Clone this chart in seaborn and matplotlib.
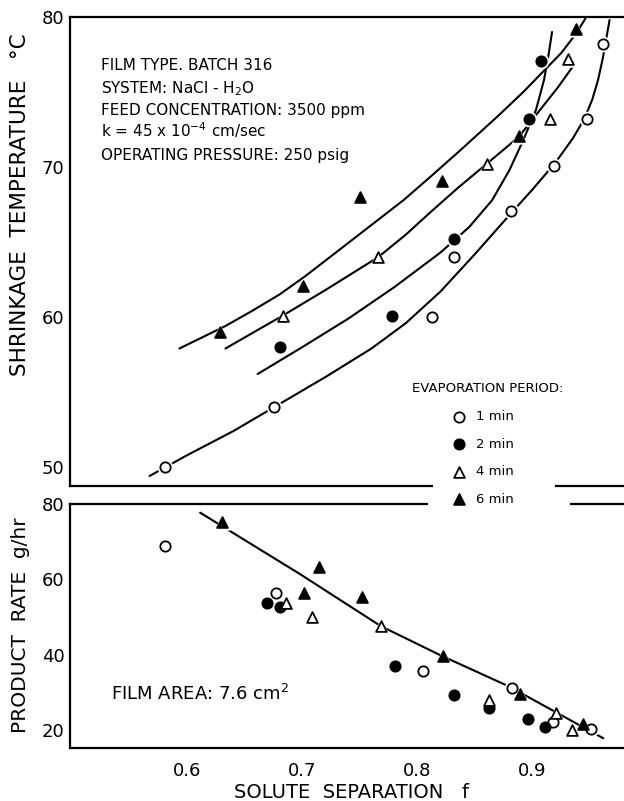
import matplotlib
matplotlib.use("Agg")
import matplotlib.pyplot as plt
import seaborn as sns
from matplotlib.patches import Rectangle

sns.set_style("white")
plt.rcParams['font.family'] = ['DejaVu Sans']
plt.rcParams['mathtext.fontset'] = 'dejavusans'
for k in ("text.color", "axes.labelcolor", "xtick.color", "ytick.color", "axes.edgecolor"):
    plt.rcParams[k] = "black"

# ---------------- data ----------------
periods = ["1 min", "2 min", "4 min", "6 min"]

# upper panel: shrinkage temperature (deg C) vs solute separation f
temp_x_1 = [0.580, 0.675, 0.813, 0.832, 0.881, 0.919, 0.947, 0.961]
temp_y_1 = [50.0, 54.0, 60.0, 64.0, 67.1, 70.1, 73.2, 78.2]
temp_x_2 = [0.680, 0.778, 0.832, 0.897, 0.907]
temp_y_2 = [58.0, 60.1, 65.2, 73.2, 77.1]
temp_x_4 = [0.683, 0.766, 0.860, 0.915, 0.931]
temp_y_4 = [60.1, 64.0, 70.2, 73.2, 77.2]
temp_x_6 = [0.628, 0.700, 0.750, 0.821, 0.888, 0.938]
temp_y_6 = [59.0, 62.1, 68.0, 69.1, 72.1, 79.2]

# hand-drawn fit curves of the upper panel
curve_x_1 = [0.567, 0.600, 0.640, 0.680, 0.720, 0.760, 0.790, 0.820, 0.850, 0.880, 0.900,
             0.920, 0.935, 0.945, 0.952, 0.957, 0.961, 0.964, 0.967]
curve_y_1 = [49.4, 50.8, 52.4, 54.2, 56.0, 57.9, 59.6, 61.7, 64.2, 66.8, 68.5,
             70.3, 71.9, 73.2, 74.5, 75.8, 77.2, 78.5, 79.8]
curve_x_2 = [0.661, 0.700, 0.740, 0.780, 0.820, 0.845, 0.865, 0.880, 0.892, 0.903, 0.910, 0.914, 0.917]
curve_y_2 = [56.2, 58.0, 59.9, 62.0, 64.3, 66.0, 67.8, 69.8, 71.8, 73.8, 75.8, 77.5, 79.0]
curve_x_4 = [0.633, 0.658, 0.683, 0.720, 0.743, 0.766, 0.790, 0.810, 0.835, 0.860, 0.888,
             0.9065, 0.922, 0.936]
curve_y_4 = [57.9, 59.0, 60.1, 61.8, 62.9, 64.0, 65.5, 66.9, 68.6, 70.2, 72.0,
             73.8, 75.3, 76.8]
curve_x_6 = [0.593, 0.613, 0.633, 0.656, 0.680, 0.702, 0.724, 0.756, 0.788, 0.812, 0.837,
             0.870, 0.892, 0.911, 0.925, 0.938, 0.946]
curve_y_6 = [57.9, 58.65, 59.4, 60.4, 61.5, 62.7, 64.0, 65.9, 67.8, 69.4, 71.1,
             73.4, 75.0, 76.5, 77.6, 78.9, 79.9]

# lower panel: product rate (g/hr) vs solute separation f
rate_x_1 = [0.580, 0.677, 0.805, 0.882, 0.918, 0.951]
rate_y_1 = [68.9, 56.5, 35.7, 31.2, 22.1, 20.4]
rate_x_2 = [0.669, 0.680, 0.780, 0.832, 0.862, 0.896, 0.911]
rate_y_2 = [53.8, 52.7, 37.1, 29.3, 25.8, 22.9, 20.9]
rate_x_4 = [0.686, 0.7085, 0.768, 0.862, 0.9205, 0.934]
rate_y_4 = [53.8, 50.1, 47.6, 28.0, 24.4, 20.0]
rate_x_6 = [0.630, 0.701, 0.714, 0.7515, 0.822, 0.889, 0.9437]
rate_y_6 = [75.1, 56.5, 63.4, 55.4, 39.7, 29.6, 21.6]

rate_curve_x = [0.611, 0.6978, 0.768, 0.8196, 0.880, 0.9616]
rate_curve_y = [77.7, 61.4, 47.6, 39.9, 31.5, 17.8]

x_ticks = [0.6, 0.7, 0.8, 0.9]
x_ticklabels = ["0.6", "0.7", "0.8", "0.9"]
temp_ticks = [50, 60, 70, 80]
rate_ticks = [20, 40, 60, 80]

# ---------------- styles ----------------
marker_style = {
    "1 min": dict(marker="o", fc="white", s=55),
    "2 min": dict(marker="o", fc="black", s=55),
    "4 min": dict(marker="^", fc="white", s=60),
    "6 min": dict(marker="^", fc="black", s=60),
}

W, H = 624, 801
fig = plt.figure(figsize=(W / 100, H / 100), dpi=100)
fx = lambda px: px / W
fy = lambda py: 1 - py / H

LEFT = 70
ax1 = fig.add_axes([fx(LEFT), fy(486), (W - LEFT) / W, (486 - 17) / H])
ax2 = fig.add_axes([fx(LEFT), fy(748), (W - LEFT) / W, (748 - 504) / H])

xlim = (0.6 - (187.5 - LEFT) / 1150, 0.6 + (W - 187.5) / 1150)

def scatter_series(ax, xs, ys, lab):
    st = marker_style[lab]
    # white halo to break the drawn lines around marks
    sns.scatterplot(x=xs, y=ys, ax=ax, marker=st["marker"], s=st["s"] * 2.3,
                    color="white", edgecolor="white", linewidth=0, zorder=3, legend=False)
    sns.scatterplot(x=xs, y=ys, ax=ax, marker=st["marker"], s=st["s"],
                    color="black", facecolor=st["fc"], edgecolor="black",
                    linewidth=1.3, zorder=4, legend=False, label=lab)

# upper panel
for cx, cy in [(curve_x_1, curve_y_1), (curve_x_2, curve_y_2),
               (curve_x_4, curve_y_4), (curve_x_6, curve_y_6)]:
    sns.lineplot(x=cx, y=cy, ax=ax1, sort=False, estimator=None,
                 color="black", linewidth=1.5, zorder=2)
for lab, xs, ys in zip(periods, [temp_x_1, temp_x_2, temp_x_4, temp_x_6],
                       [temp_y_1, temp_y_2, temp_y_4, temp_y_6]):
    scatter_series(ax1, xs, ys, lab)

# lower panel
sns.lineplot(x=rate_curve_x, y=rate_curve_y, ax=ax2, sort=False, estimator=None,
             color="black", linewidth=1.5, zorder=2)
for lab, xs, ys in zip(periods, [rate_x_1, rate_x_2, rate_x_4, rate_x_6],
                       [rate_y_1, rate_y_2, rate_y_4, rate_y_6]):
    scatter_series(ax2, xs, ys, lab)

for ax in (ax1, ax2):
    ax.set_xlim(*xlim)
    ax.set_xticks(x_ticks)
    for sp in ("left", "top", "bottom"):
        ax.spines[sp].set_visible(True)
        ax.spines[sp].set_linewidth(1.6)
        ax.spines[sp].set_color("black")
    ax.spines["right"].set_visible(False)
    ax.grid(False)

ax1.set_ylim(80 - (486 - 17) / 15, 80)
ax1.set_yticks(temp_ticks)
ax1.set_xticklabels([])
ax1.tick_params(axis="y", direction="in", length=15, width=1.5, labelsize=13, pad=4)
ax1.tick_params(axis="x", direction="in", length=9, width=1.5)

ax2.set_ylim(80 - (748 - 504) / 3.767, 80)
ax2.set_yticks(rate_ticks)
ax2.set_xticklabels(x_ticklabels)
ax2.tick_params(axis="y", direction="in", length=11, width=1.5, labelsize=13, pad=4)
ax2.tick_params(axis="x", direction="in", length=11, width=1.5, labelsize=13, pad=10)

ax1.set_xlabel("")
ax1.set_ylabel("SHRINKAGE  TEMPERATURE   °C", fontsize=15.5)
ax1.yaxis.set_label_coords((30 - LEFT) / (W - LEFT), (486 - 205) / (486 - 17))
ax2.set_ylabel("PRODUCT  RATE  g/hr", fontsize=14.5)
ax2.yaxis.set_label_coords((30 - LEFT) / (W - LEFT), (748 - 625) / (748 - 504))
ax2.set_xlabel("SOLUTE  SEPARATION   f", fontsize=14)
ax2.xaxis.set_label_coords((351 - LEFT) / (W - LEFT), (748 - 783) / (748 - 504))

# annotations
notes = ["FILM TYPE. BATCH 316",
         r"SYSTEM: NaCl - H$_2$O",
         "FEED CONCENTRATION: 3500 ppm",
         r"k = 45 x 10$^{-4}$ cm/sec",
         "OPERATING PRESSURE: 250 psig"]
for txt, base in zip(notes, [70, 93, 115, 137, 160]):
    fig.text(fx(101), fy(base), txt, fontsize=11, ha="left", va="baseline")
fig.text(fx(111), fy(700), r"FILM AREA: 7.6 cm$^2$", fontsize=13, ha="left", va="baseline")

# white gaps in the spines behind the legend
fig.add_artist(Rectangle((fx(433), fy(494)), (555 - 433) / W, (494 - 470) / H,
                         transform=fig.transFigure, facecolor="white", edgecolor="none", zorder=1))
fig.add_artist(Rectangle((fx(428), fy(512)), (570 - 428) / W, (512 - 494) / H,
                         transform=fig.transFigure, facecolor="white", edgecolor="none", zorder=1))

# legend
fig.text(fx(412), fy(388), "EVAPORATION PERIOD:", fontsize=9.5, ha="left", va="center", zorder=6)
handles, labels = ax1.get_legend_handles_labels()
fig.legend(handles, labels, loc="upper left", bbox_to_anchor=(fx(452), fy(410)),
           frameon=False, fontsize=9.5, handlelength=1.0, handletextpad=0.8,
           labelspacing=1.1, borderpad=0, borderaxespad=0, scatterpoints=1)

fig.savefig("out.png", dpi=100)
